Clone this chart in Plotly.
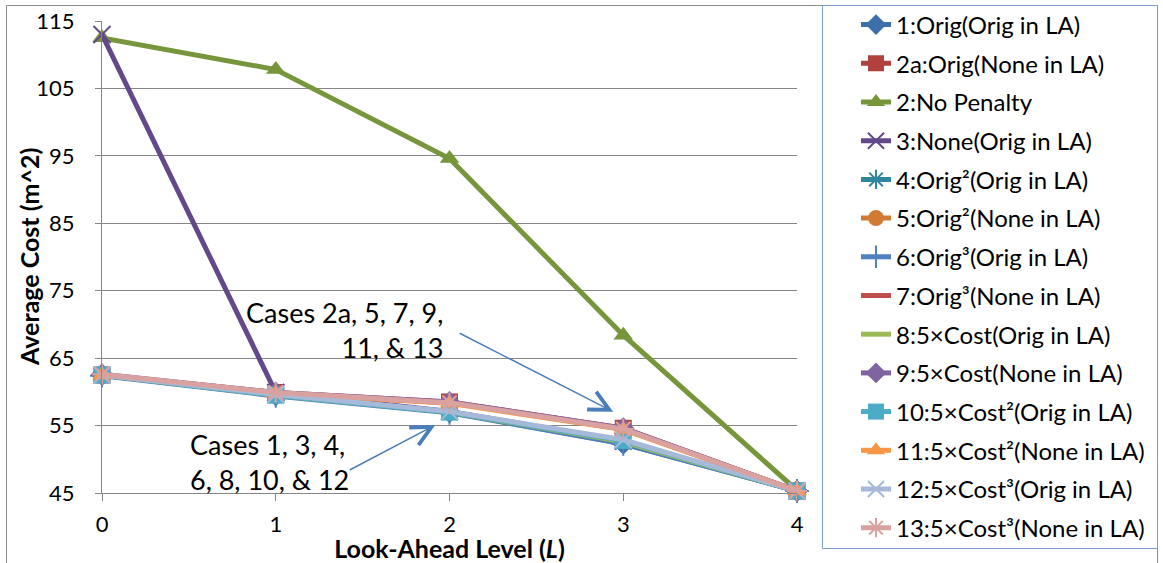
import plotly.graph_objects as go

# Look-ahead levels on the x axis
levels = [0, 1, 2, 3, 4]

# Series names, in legend order
names = [
    "1:Orig(Orig in LA)",
    "2a:Orig(None in LA)",
    "2:No Penalty",
    "3:None(Orig in LA)",
    "4:Orig²(Orig in LA)",
    "5:Orig²(None in LA)",
    "6:Orig³(Orig in LA)",
    "7:Orig³(None in LA)",
    "8:5×Cost(Orig in LA)",
    "9:5×Cost(None in LA)",
    "10:5×Cost²(Orig in LA)",
    "11:5×Cost²(None in LA)",
    "12:5×Cost³(Orig in LA)",
    "13:5×Cost³(None in LA)",
]

# Average cost (m^2) per look-ahead level
case_1 = [62.5, 59.5, 57.0, 52.3, 45.3]
case_2a = [62.5, 59.9, 58.5, 54.6, 45.3]
case_2 = [112.5, 107.8, 94.6, 68.4, 45.4]
case_3 = [113.0, 59.9, 57.1, 52.7, 45.3]
case_4 = [62.5, 59.5, 57.0, 52.6, 45.3]
case_5 = [62.5, 59.8, 58.4, 54.5, 45.3]
case_6 = [62.4, 59.4, 56.9, 52.3, 45.3]
case_7 = [62.5, 59.8, 58.4, 54.5, 45.3]
case_8 = [62.5, 59.5, 57.0, 52.6, 45.3]
case_9 = [62.6, 59.9, 58.5, 54.6, 45.3]
case_10 = [62.5, 59.5, 57.0, 52.8, 45.3]
case_11 = [62.5, 59.8, 58.3, 54.4, 45.3]
case_12 = [62.5, 59.6, 57.1, 52.9, 45.3]
case_13 = [62.6, 59.9, 58.4, 54.5, 45.3]

series = [case_1, case_2a, case_2, case_3, case_4, case_5, case_6,
          case_7, case_8, case_9, case_10, case_11, case_12, case_13]

colors = ["#3D6FA9", "#B0413E", "#77963C", "#63488A", "#31869E", "#D07A35",
          "#4F81BD", "#C0504D", "#9BBB59", "#8064A2", "#4BACC6", "#F79646",
          "#A6B9D9", "#D9A1A0"]

symbols = ["diamond", "square", "triangle-up", "x-thin", "asterisk-open",
           "circle", "cross-thin", None, None, "diamond", "square",
           "triangle-up", "x-thin", "asterisk-open"]

FONT = "Lato"

fig = go.Figure()
for i, (name, ys, col, sym) in enumerate(zip(names, series, colors, symbols)):
    thin = sym is not None and ("thin" in sym or "asterisk" in sym)
    if sym is None:
        mode = "lines"
        marker = dict()
    elif thin:
        mode = "lines+markers"
        marker = dict(symbol=sym, size=17, color=col, line=dict(width=2, color=col))
    else:
        mode = "lines+markers"
        marker = dict(symbol=sym, size=17, color=col, line=dict(width=0))
    fig.add_trace(go.Scatter(
        x=levels, y=ys, name=name, mode=mode,
        line=dict(color=col, width=5),
        marker=marker, cliponaxis=False,
        legendgroup=f"g{i}",
    ))

# px -> paper helpers for frame shapes
L, R, T, B = 102, 366, 21, 70
W, H = 1163, 563
pw, ph = W - L - R, H - T - B


def px_x(p):
    return (p - L) / pw


def px_y(p):
    return (H - B - p) / ph


# Outer chart frame and legend box
fig.add_shape(type="rect", xref="paper", yref="paper",
              x0=px_x(6.5), x1=px_x(1157.5), y0=px_y(575), y1=px_y(5.5),
              line=dict(color="#8C8C8C", width=1), fillcolor="rgba(0,0,0,0)", layer="below")
fig.add_shape(type="rect", xref="paper", yref="paper",
              x0=px_x(822.5), x1=px_x(1157.5), y0=px_y(548.5), y1=px_y(5.5),
              line=dict(color="#7D9CCB", width=1), fillcolor="rgba(0,0,0,0)")

ann_font = dict(family=FONT, size=27, color="#000000")
fig.add_annotation(x=1.976, y=69.2, xref="x", yref="y", xanchor="right", yanchor="middle",
                   text="Cases 2a, 5, 7, 9,<br>11, & 13", align="right",
                   showarrow=False, font=ann_font)
fig.add_annotation(x=0.497, y=49.6, xref="x", yref="y", xanchor="left", yanchor="middle",
                   text="Cases 1, 3, 4,<br>6, 8, 10, & 12", align="left",
                   showarrow=False, font=ann_font)
# Pointer arrows
fig.add_annotation(x=2.942, y=57.06, ax=2.05, ay=68.8, xref="x", yref="y",
                   axref="x", ayref="y", text="", showarrow=True,
                   arrowhead=5, arrowsize=2.6, arrowwidth=1.5, arrowcolor="#4A7EBB")
fig.add_annotation(x=1.918, y=55.08, ax=1.417, ay=48.3, xref="x", yref="y",
                   axref="x", ayref="y", text="", showarrow=True,
                   arrowhead=5, arrowsize=2.6, arrowwidth=1.5, arrowcolor="#4A7EBB")

# Vertical axis title
fig.add_annotation(x=px_x(29), y=0.5, xref="paper", yref="paper",
                   xanchor="center", yanchor="middle", textangle=-90,
                   text="<b>Average Cost (m^2)</b>", showarrow=False,
                   font=dict(family=FONT, size=25, color="#000000"))

fig.update_layout(
    width=W, height=H,
    margin=dict(l=L, r=R, t=T, b=B, autoexpand=False),
    paper_bgcolor="white", plot_bgcolor="white",
    font=dict(family=FONT, color="#000000"),
    showlegend=True,
    legend=dict(
        x=px_x(856), y=px_y(2.5), xanchor="left", yanchor="top",
        font=dict(family=FONT, size=24, color="#000000"),
        tracegroupgap=4.5, bgcolor="rgba(0,0,0,0)", borderwidth=0,
        maxheight=600,
    ),
    xaxis=dict(
        range=[0, 4], tickvals=levels, ticktext=[str(v) for v in levels],
        showgrid=False, zeroline=False, showline=True, linecolor="#868686", linewidth=1,
        ticks="outside", ticklen=7, tickcolor="#868686",
        tickfont=dict(family=FONT, size=22), ticklabelstandoff=5,
        title=dict(text="<b>Look-Ahead Level (<i>L</i>)</b>", font=dict(family=FONT, size=25),
                   standoff=0),
    ),
    yaxis=dict(
        range=[45, 115], tick0=45, dtick=10,
        showgrid=True, gridcolor="#868686", gridwidth=1,
        zeroline=False, showline=True, linecolor="#868686", linewidth=1,
        ticks="outside", ticklen=6, tickcolor="#868686",
        tickfont=dict(family=FONT, size=22), ticklabelstandoff=16,
    ),
)

fig.write_html("out.html")
